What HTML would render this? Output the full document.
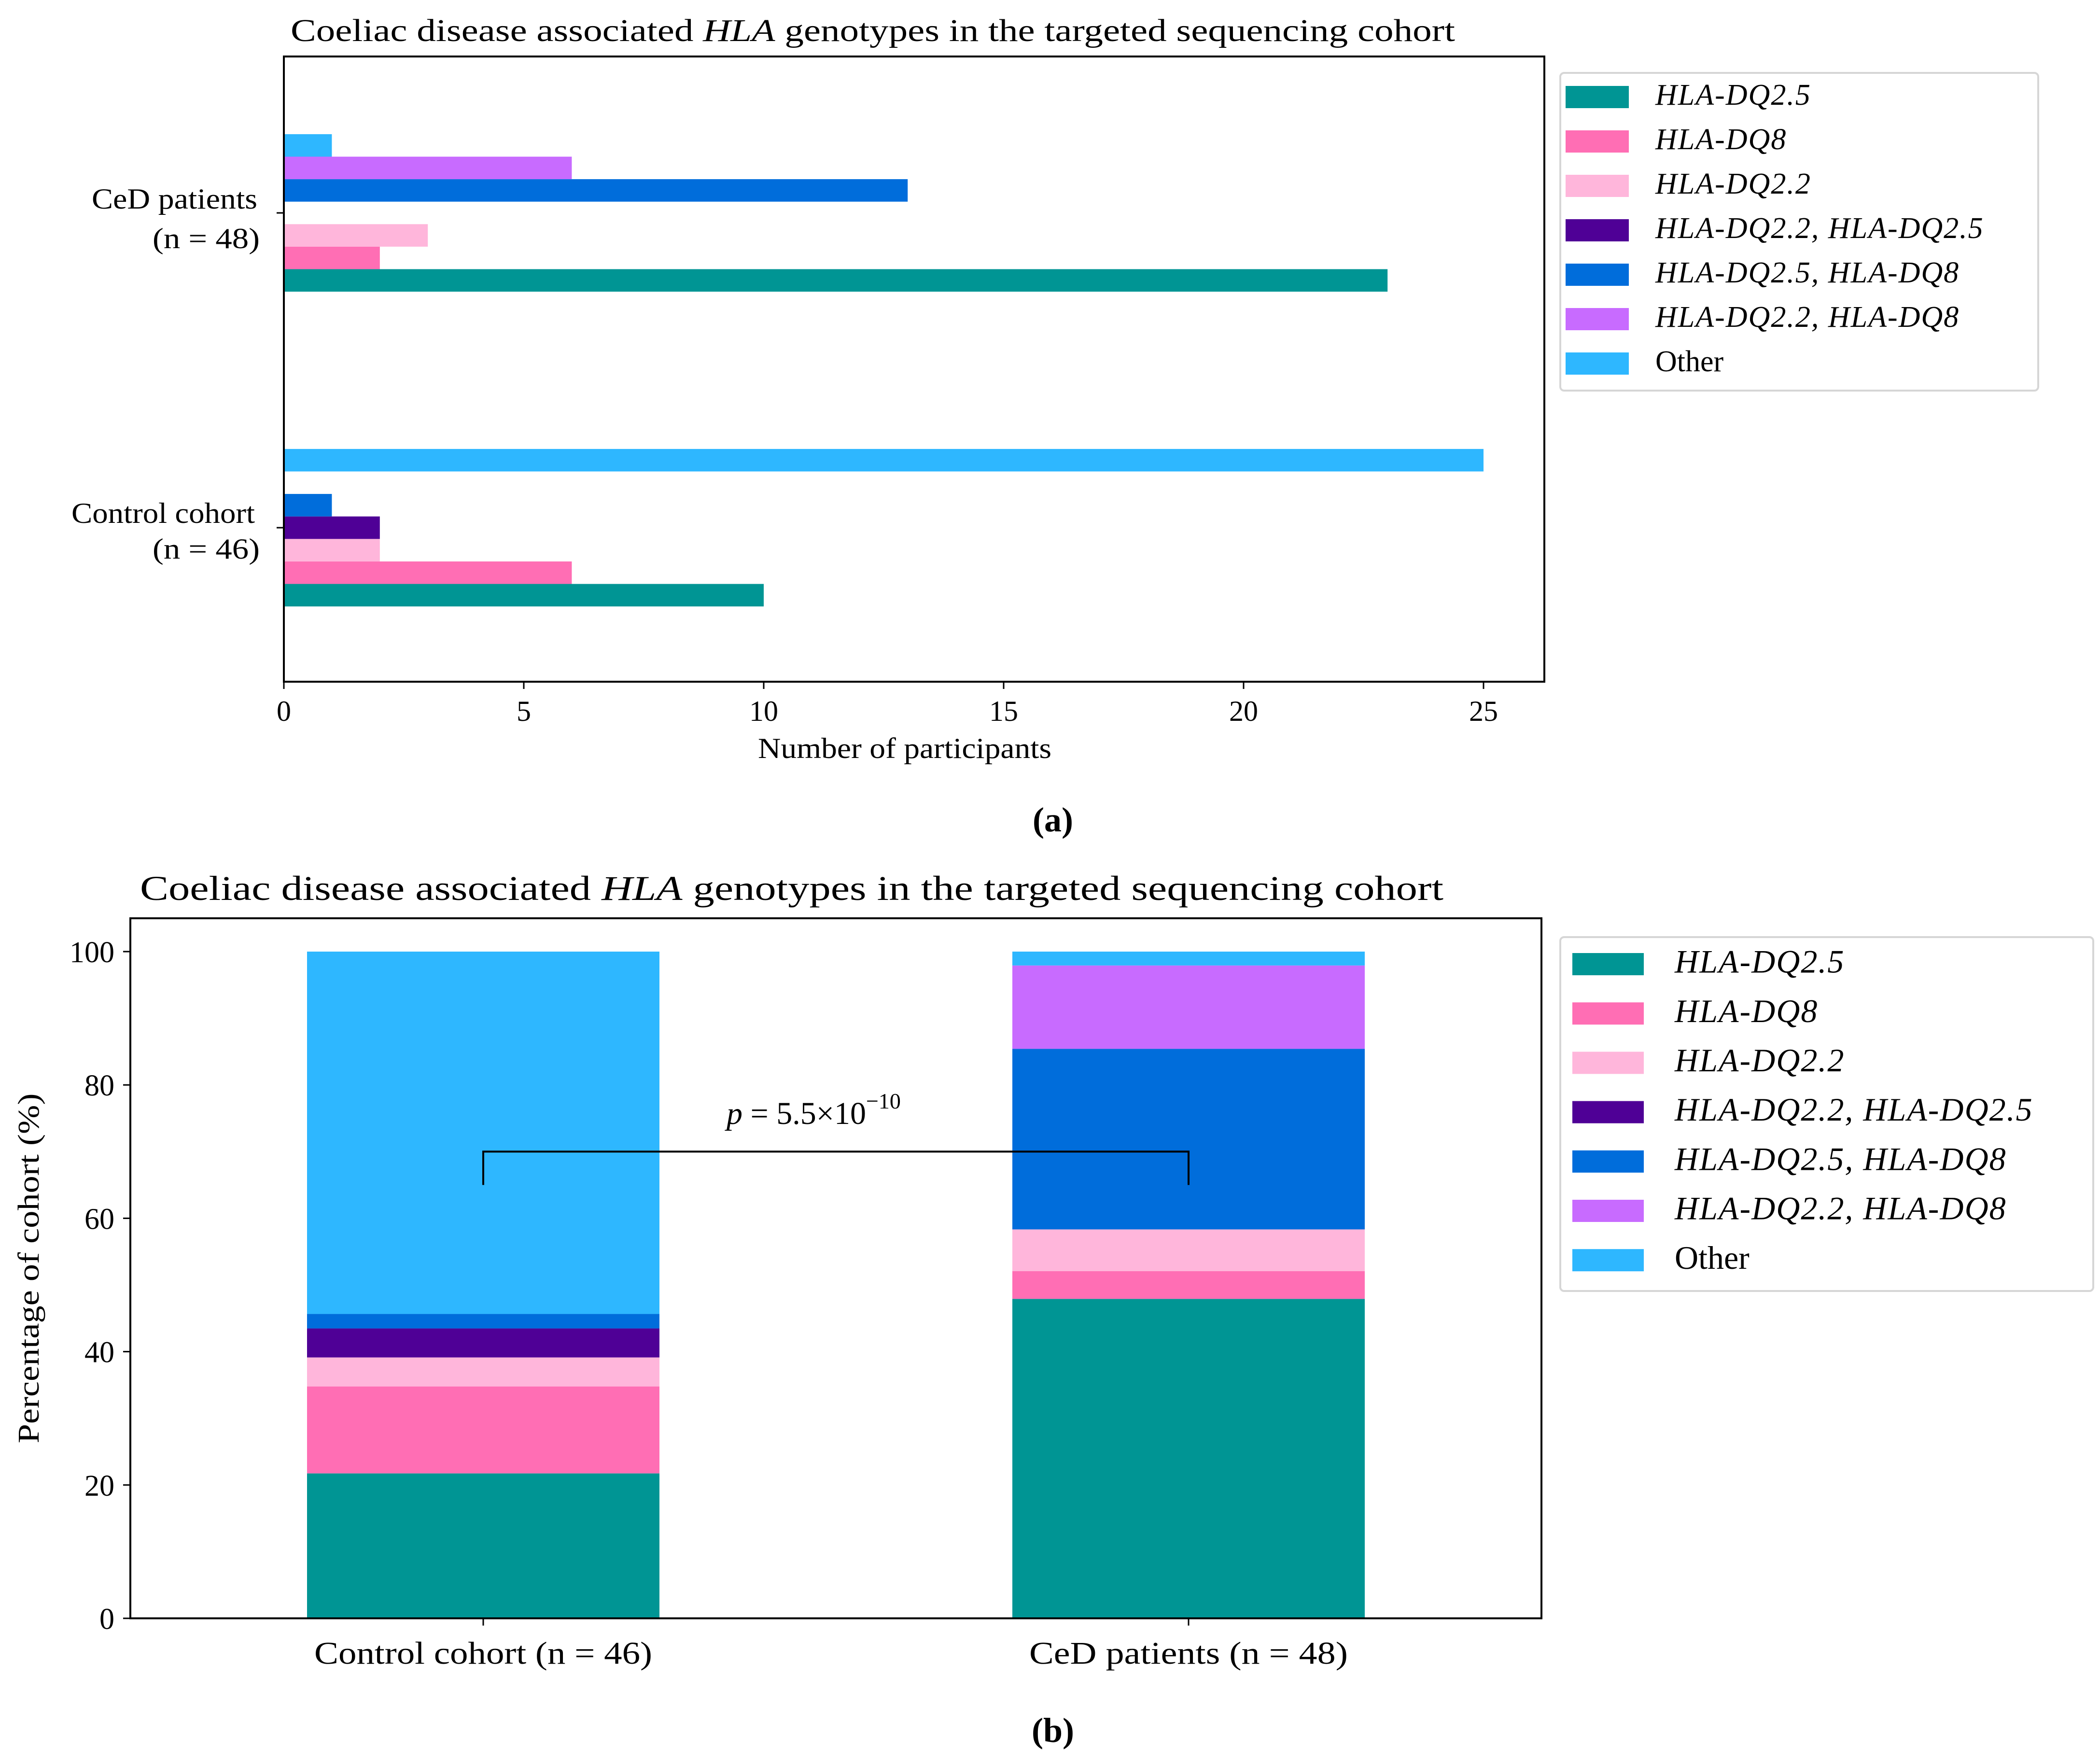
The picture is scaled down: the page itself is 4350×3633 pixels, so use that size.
<!DOCTYPE html>
<html><head><meta charset="utf-8"><style>
html,body{margin:0;padding:0;background:#fff;}
svg{display:block;font-family:"Liberation Serif",serif;}
</style></head><body>
<svg id="fig" width="4350" height="3633" viewBox="0 0 4350 3633">
<rect width="4350" height="3633" fill="#fff"/>
<g id="top"></g>
<g id="bot"></g>
</svg>
<script>
const genotypes = ["HLA-DQ2.5","HLA-DQ8","HLA-DQ2.2","HLA-DQ2.2, HLA-DQ2.5","HLA-DQ2.5, HLA-DQ8","HLA-DQ2.2, HLA-DQ8","Other"];
const colors = ["#009594","#ff6eb4","#ffb6db","#4f0096","#006ddb","#c86bff","#2eb7ff"];
const controlCounts = [10,6,2,2,1,0,25];
const cedCounts = [23,2,3,0,13,6,1];
const cohortTotals = [46,48];
const xTicksA = [0,5,10,15,20,25];
const yTicksB = [0,20,40,60,80,100];

const NS="http://www.w3.org/2000/svg";
function mk(parent,tag,attrs,text){const e=document.createElementNS(NS,tag);for(const k in attrs)e.setAttribute(k,attrs[k]);if(text!==undefined)e.textContent=text;parent.appendChild(e);return e;}
function addLegendText(g,x,y,label,fs){
  const t=mk(g,'text',{x:x,y:y,'font-size':fs,'dominant-baseline':'middle'});
  if(label==="Other"){t.textContent="Other";}
  else{t.setAttribute('font-style','italic');t.setAttribute('letter-spacing','2');t.textContent=label;}
  return t;
}

// ---------- Panel A ----------
const A=document.getElementById('top');
const aL=588,aR=3199,aT=117,aB=1412;
const ax=v=>aL+(v/25)*(3073-aL);
const catY=[1093,441]; // control, CeD
const bh=46.6;
let t=mk(A,'text',{x:1808,y:85,'font-size':66,'text-anchor':'middle',textLength:2412,lengthAdjust:'spacingAndGlyphs'});

t.innerHTML='Coeliac disease associated <tspan font-style="italic">HLA</tspan> genotypes in the targeted sequencing cohort';
[controlCounts,cedCounts].forEach((arr,ci)=>{
  arr.forEach((v,i)=>{
    const yc=catY[ci]+(3-i)*bh;
    const r=mk(A,'rect',{x:aL,y:yc-bh/2,width:ax(v)-aL,height:bh,fill:colors[i]});
    
    
  });
});
mk(A,'rect',{x:aL,y:aT,width:aR-aL,height:aB-aT,fill:'none',stroke:'#000','stroke-width':4});
xTicksA.forEach(v=>{
  mk(A,'line',{x1:ax(v),x2:ax(v),y1:aB,y2:aB+15,stroke:'#000','stroke-width':3});
  const tt=mk(A,'text',{x:ax(v),y:1493,'font-size':60,'text-anchor':'middle'},String(v));
  
});
catY.forEach(y=>mk(A,'line',{x1:aL-15,x2:aL,y1:y,y2:y,stroke:'#000','stroke-width':3}));
t=mk(A,'text',{x:1874,y:1570,'font-size':60,'text-anchor':'middle',textLength:608,lengthAdjust:'spacingAndGlyphs'},'Number of participants');

[['CeD patients',533,432,343],['(n = 48)',538,514,222],['Control cohort',528,1083,380],['(n = 46)',538,1157,222]].forEach(d=>{
  const e=mk(A,'text',{x:d[1],y:d[2],'font-size':60,'text-anchor':'end',textLength:d[3],lengthAdjust:'spacingAndGlyphs'},d[0]);
  
});
let lg=mk(A,'g',{});
mk(lg,'rect',{x:3232,y:151,width:990,height:658,rx:8,fill:'#fff',stroke:'#d6d6d6','stroke-width':4});
genotypes.forEach((g,i)=>{
  const y=201+i*92;
  mk(lg,'rect',{x:3243,y:y-23,width:131,height:46,fill:colors[i]});
  const e=addLegendText(lg,3429,y+2,g,62);
  
});
t=mk(A,'text',{x:2181,y:1722,'font-size':72,'font-weight':'bold','text-anchor':'middle'},'(a)');


// ---------- Panel B ----------
const B=document.getElementById('bot');
const bL=270,bR=3193,bT=1902,bB=3352;
const by=v=>bB-(v/100)*(bB-1971);
const barX=[636,2097],barW=730,centers=[1001,2462];
t=mk(B,'text',{x:1640,y:1864,'font-size':72,'text-anchor':'middle',textLength:2700,lengthAdjust:'spacingAndGlyphs'});

t.innerHTML='Coeliac disease associated <tspan font-style="italic">HLA</tspan> genotypes in the targeted sequencing cohort';
[controlCounts,cedCounts].forEach((arr,ci)=>{
  let cum=0;
  arr.forEach((v,i)=>{
    const p=v/cohortTotals[ci]*100;
    const r=mk(B,'rect',{x:barX[ci],y:by(cum+p),width:barW,height:by(cum)-by(cum+p),fill:colors[i]});
    
    
    cum+=p;
  });
});
mk(B,'rect',{x:bL,y:bT,width:bR-bL,height:bB-bT,fill:'none',stroke:'#000','stroke-width':4});
yTicksB.forEach(v=>{
  mk(B,'line',{x1:bL-15,x2:bL,y1:by(v),y2:by(v),stroke:'#000','stroke-width':3});
  const e=mk(B,'text',{x:237,y:by(v)+22,'font-size':62,'text-anchor':'end'},String(v));
  
});
['Control cohort (n = 46)','CeD patients (n = 48)'].forEach((s,i)=>{
  mk(B,'line',{x1:centers[i],x2:centers[i],y1:bB,y2:bB+15,stroke:'#000','stroke-width':3});
  const e=mk(B,'text',{x:centers[i],y:3446,'font-size':66,'text-anchor':'middle',textLength:i?660:700,lengthAdjust:'spacingAndGlyphs'},s);
  
});
t=mk(B,'text',{x:0,y:0,'font-size':62,'text-anchor':'middle',transform:'translate(80,2627) rotate(-90)',textLength:725,lengthAdjust:'spacingAndGlyphs'},'Percentage of cohort (%)');

const br=mk(B,'polyline',{points:`${centers[0]},${by(65)} ${centers[0]},${by(70)} ${centers[1]},${by(70)} ${centers[1]},${by(65)}`,fill:'none',stroke:'#000','stroke-width':4});

t=mk(B,'text',{x:1505,y:2328,'font-size':66});

t.innerHTML='<tspan font-style="italic">p</tspan> = 5.5×10<tspan dy="-32" font-size="46">−10</tspan>';
lg=mk(B,'g',{});
mk(lg,'rect',{x:3232,y:1941,width:1104,height:733,rx:8,fill:'#fff',stroke:'#d6d6d6','stroke-width':4});
genotypes.forEach((g,i)=>{
  const y=1997+i*102.2;
  mk(lg,'rect',{x:3257,y:y-23,width:148,height:46,fill:colors[i]});
  const e=addLegendText(lg,3469,y+2,g,68);
  
});
t=mk(B,'text',{x:2181,y:3608,'font-size':72,'font-weight':'bold','text-anchor':'middle'},'(b)');

</script>
</body></html>
